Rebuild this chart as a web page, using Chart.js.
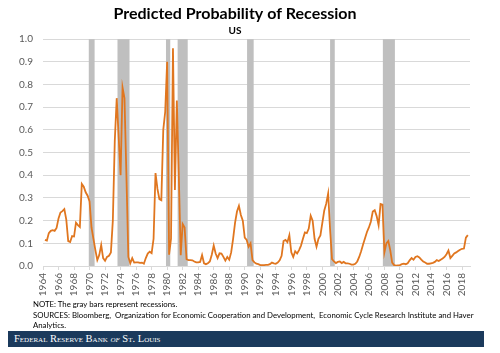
<!DOCTYPE html>
<html>
<head>
<meta charset="utf-8">
<script src="https://cdn.jsdelivr.net/npm/chart.js@4/dist/chart.umd.min.js"></script>
<style>
  body { margin: 0; background: #fff; }
  #wrap { position: relative; width: 500px; height: 353px; overflow: hidden; }
  #notes {
    position: absolute; left: 33px; top: 299px; width: 465px;
    font-family: Lato, sans-serif; font-size: 7.8px; line-height: 10.7px; color: #000;
  }
  #banner {
    position: absolute; left: 8px; top: 331px; width: 476px; height: 16px;
    background: #1B3A5C; color: #fff;
    font-family: "Liberation Serif", "DejaVu Serif", serif; font-size: 10.5px;
    font-variant: small-caps; line-height: 16px; padding-left: 6px; box-sizing: border-box;
  }
</style>
</head>
<body>
<div id="wrap">
  <canvas id="chart" width="500" height="300"></canvas>
  <div id="notes">
    NOTE: The gray bars represent recessions.<br>
    SOURCES: Bloomberg,&nbsp; Organization for Economic Cooperation and Development,&nbsp; Economic Cycle Research Institute and Haver<br>
    Analytics.
  </div>
  <div id="banner">Federal Reserve Bank <i>of</i> St. Louis</div>
</div>
<script>
// ==========================
// DATA
// ==========================
const startYear = 1964.25; // first quarter on the chart, one value per quarter after it
const probability = [
  0.115, 0.112, 0.145, 0.155, 0.158, 0.155, 0.168, 0.21, 0.236, 0.242,
  0.251, 0.205, 0.11, 0.106, 0.132, 0.13, 0.191, 0.18, 0.172, 0.362,
  0.35, 0.325, 0.31, 0.285, 0.17, 0.12, 0.07, 0.026, 0.048, 0.092,
  0.035, 0.023, 0.04, 0.045, 0.06, 0.2, 0.55, 0.74, 0.57, 0.40,
  0.787, 0.74, 0.4, 0.04, 0.012, 0.035, 0.015, 0.016, 0.016, 0.014,
  0.015, 0.01, 0.035, 0.055, 0.063, 0.057, 0.12, 0.41, 0.34, 0.295,
  0.29, 0.6, 0.68, 0.9, 0.05, 0.12, 0.96, 0.335, 0.73, 0.4,
  0.048, 0.185, 0.17, 0.03, 0.026, 0.026, 0.025, 0.02, 0.016, 0.016,
  0.018, 0.048, 0.012, 0.008, 0.012, 0.02, 0.05, 0.09, 0.055, 0.035,
  0.056, 0.055, 0.04, 0.024, 0.04, 0.028, 0.06, 0.12, 0.19, 0.24,
  0.265, 0.225, 0.2, 0.125, 0.115, 0.085, 0.1, 0.026, 0.016, 0.01,
  0.008, 0.004, 0.004, 0.004, 0.005, 0.005, 0.008, 0.015, 0.012, 0.01,
  0.015, 0.025, 0.045, 0.11, 0.115, 0.105, 0.136, 0.06, 0.04, 0.065,
  0.055, 0.07, 0.09, 0.12, 0.148, 0.145, 0.165, 0.222, 0.2, 0.12,
  0.085, 0.12, 0.135, 0.19, 0.245, 0.275, 0.32, 0.16, 0.03, 0.02,
  0.013, 0.018, 0.02, 0.013, 0.018, 0.012, 0.012, 0.01, 0.006, 0.006,
  0.01, 0.02, 0.04, 0.065, 0.095, 0.122, 0.15, 0.17, 0.195, 0.24,
  0.246, 0.22, 0.18, 0.273, 0.27, 0.06, 0.1, 0.11, 0.07, 0.015,
  0.004, 0.002, 0.003, 0.004, 0.008, 0.01, 0.008, 0.012, 0.025, 0.035,
  0.028, 0.04, 0.043, 0.038, 0.028, 0.02, 0.015, 0.01, 0.01, 0.012,
  0.014, 0.018, 0.026, 0.022, 0.028, 0.033, 0.04, 0.052, 0.068, 0.035,
  0.045, 0.055, 0.06, 0.066, 0.072, 0.076, 0.077, 0.125, 0.136
];

// recessions (start / end, in years)
const recessionStart = [1969.9, 1973.6, 1979.85, 1981.35, 1990.3, 2001.0, 2007.8];
const recessionEnd   = [1970.65, 1975.15, 1980.4, 1982.65, 1991.15, 2001.6, 2009.35];

// ==========================
// RECESSION BARS PLUGIN
// ==========================
const recessionBars = {
  id: "recessionBars",
  beforeDatasetsDraw(chart) {
    const { ctx, chartArea, scales } = chart;
    ctx.save();
    ctx.fillStyle = "#BFBFBF";
    recessionStart.forEach((s, i) => {
      const x0 = scales.x.getPixelForValue(s);
      const x1 = scales.x.getPixelForValue(recessionEnd[i]);
      ctx.fillRect(x0, chartArea.top, x1 - x0, chartArea.bottom - chartArea.top);
    });
    ctx.restore();
  }
};

// ==========================
// CHART
// ==========================
const points = probability.map((v, i) => ({ x: startYear + i / 4, y: v }));
const tickFont = { family: "Lato", size: 10 };

new Chart(document.getElementById("chart"), {
  type: "line",
  data: {
    datasets: [{
      data: points,
      borderColor: "#E0761F",
      borderWidth: 1.8,
      pointRadius: 0,
      tension: 0
    }]
  },
  options: {
    responsive: false,
    animation: false,
    layout: { padding: { top: 4, right: 30, bottom: 0, left: 0 } },
    plugins: {
      legend: { display: false },
      tooltip: { enabled: false },
      title: {
        display: true,
        text: "Predicted Probability of Recession",
        color: "#000",
        font: { family: "Lato", size: 16, weight: "bold" },
        padding: { top: 0, bottom: 2 }
      },
      subtitle: {
        display: true,
        text: "US",
        color: "#000",
        font: { family: "Lato", size: 10, weight: "bold" },
        padding: { top: 0, bottom: 2 }
      }
    },
    scales: {
      x: {
        type: "linear",
        min: 1964,
        max: 2019.03,
        afterFit: s => { s.height = 34; },
        ticks: {
          stepSize: 2,
          includeBounds: false,
          autoSkip: false,
          maxRotation: 90,
          minRotation: 90,
          padding: 3,
          color: "#595959",
          font: tickFont,
          callback: v => String(v)
        },
        grid: { drawOnChartArea: false, tickLength: 4, color: "#D9D9D9" },
        border: { color: "#D9D9D9" }
      },
      y: {
        min: 0,
        max: 1,
        afterFit: s => { s.width = 43; },
        ticks: {
          stepSize: 0.1,
          padding: 10,
          color: "#595959",
          font: tickFont,
          callback: v => v.toFixed(1)
        },
        grid: { color: "#D9D9D9", drawTicks: false },
        border: { display: false }
      }
    }
  },
  plugins: [recessionBars]
});
</script>
</body>
</html>
